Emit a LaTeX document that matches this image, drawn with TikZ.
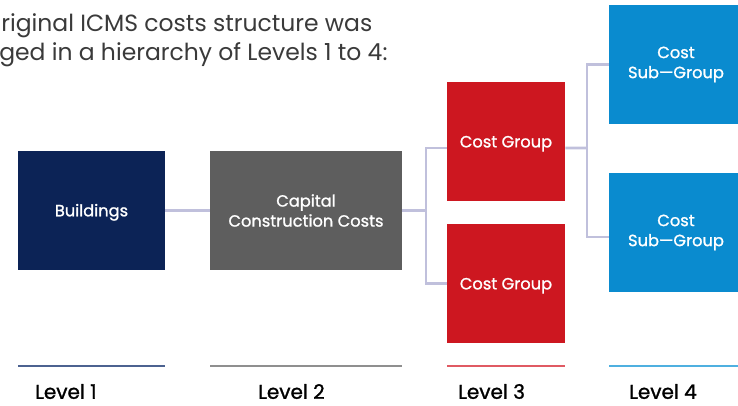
\documentclass[tikz,border=0pt]{standalone}
\usepackage{fontspec}
\setmainfont{Poppins}
\newfontfamily\medfont[FakeBold=1.2]{Poppins}
\definecolor{navy}{HTML}{0C2356}
\definecolor{slate}{HTML}{5E5E5E}
\definecolor{crimson}{HTML}{CD1720}
\definecolor{azure}{HTML}{0A8BCF}
\definecolor{linkc}{HTML}{C0C0DC}
\definecolor{lvlone}{HTML}{4C6290}
\definecolor{lvltwo}{HTML}{8F8F8F}
\definecolor{lvlthree}{HTML}{E05A63}
\definecolor{lvlfour}{HTML}{4FB0E0}
\definecolor{introc}{HTML}{3A3A3A}

\begin{document}
\begin{tikzpicture}[x=0.75pt,y=-0.75pt]
\tikzset{box/.style={minimum height=89.25pt, inner sep=0pt, text=white, align=center,
    font=\medfont\fontsize{12.2}{15}\selectfont, execute at begin node={\rule{0pt}{12pt}}},
  link/.style={draw=linkc, line width=2pt},
  level/.style={line width=1.5pt},
  lvltext/.style={anchor=west, inner sep=0pt, font=\medfont\fontsize{15}{18}\selectfont}}
\useasboundingbox (0,0) rectangle (738,405);
\clip (0,0) rectangle (738,405);
% intro text, cut at the left
\node[anchor=base west, inner sep=0pt, text=introc, font=\fontsize{17.6}{22}\selectfont] (introa) at (1,31) {riginal ICMS costs structure was};
\node[anchor=base west, inner sep=0pt, text=introc, font=\fontsize{17.6}{22}\selectfont] (introb) at (-1,60) {ged in a hierarchy of Levels 1 to 4:};
% boxes
\node[box, fill=navy, minimum width=110.25pt] (bld) at (91.5,210.5) {Buildings};
\node[box, fill=slate, minimum width=144pt] (ccc) at (306,210.5) {Capital\\Construction Costs};
\node[box, fill=crimson, minimum width=88.5pt] (cga) at (506,141.5) {Cost Group};
\node[box, fill=crimson, minimum width=88.5pt] (cgb) at (506,283.5) {Cost Group};
\node[box, fill=azure, minimum width=100.5pt] (sga) at (676,64.5) {Cost\\Sub—Group};
\node[box, fill=azure, minimum width=100.5pt] (sgb) at (676,232.5) {Cost\\Sub—Group};
% connectors
\coordinate (ja) at (426,210.5);
\coordinate (jb) at (587,148);
\draw[link] (bld) -- (ccc);
\draw[link] (ccc) -- (ja);
\draw[link] (ja) |- ([yshift=-4.9pt]cga.west);
\draw[link] (ja) |- (cgb);
\draw[link] ([yshift=-4.9pt]cga.east) -- (jb);
\draw[link] (jb) |- (sga);
\draw[link] (jb) |- ([yshift=-3.4pt]sgb.west);
% levels
\draw[level, draw=lvlone] (18,366) -- (165,366);
\draw[level, draw=lvltwo] (210,366) -- (402,366);
\draw[level, draw=lvlthree] (447,366) -- (565,366);
\draw[level, draw=lvlfour] (609,366) -- (745,366);
\node[lvltext] (lva) at (35,391.5) {Level 1};
\node[lvltext] (lvb) at (258,391.5) {Level 2};
\node[lvltext] (lvc) at (458,391.5) {Level 3};
\node[lvltext] (lvd) at (629,391.5) {Level 4};
\end{tikzpicture}
\end{document}
